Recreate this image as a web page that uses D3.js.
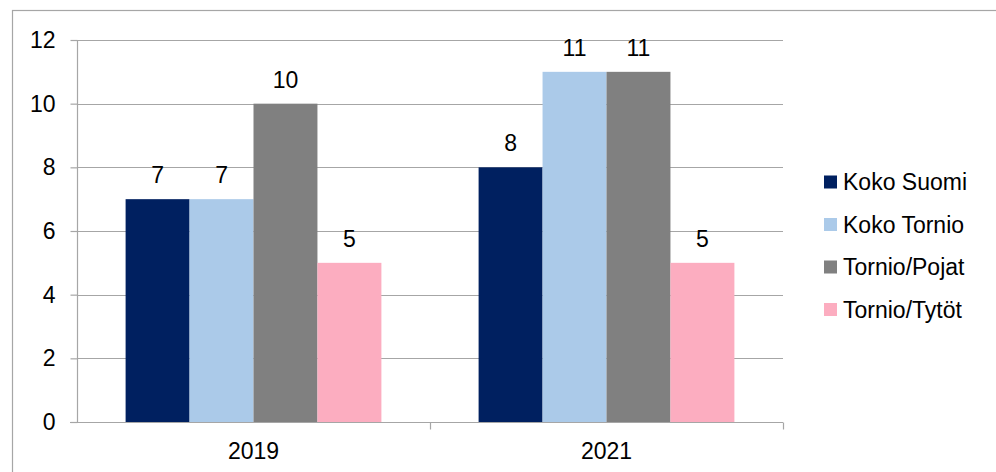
<!DOCTYPE html>
<html>
<head>
<meta charset="utf-8">
<script src="https://cdn.jsdelivr.net/npm/d3@7"></script>
<style>
  body { margin: 0; background: #fff; }
  svg { display: block; font-family: "Liberation Sans", Arial, sans-serif; }
</style>
</head>
<body>
<svg id="chart" width="996" height="472"></svg>
<script>
// Chart data
const years = ['2019', '2021'];
const seriesNames = ['Koko Suomi', 'Koko Tornio', 'Tornio/Pojat', 'Tornio/Tytöt'];
const kokoSuomi = [7, 8];
const kokoTornio = [7, 11];
const tornioPojat = [10, 11];
const tornioTytot = [5, 5];
const yTicks = [0, 2, 4, 6, 8, 10, 12];

const colors = ['#002060', '#abcae9', '#808080', '#fcadc0'];
const allSeries = [kokoSuomi, kokoTornio, tornioPojat, tornioTytot];

const fontSize = 23;

// Plot area
const plot = { left: 77, right: 783, top: 40, bottom: 422 };

const svg = d3.select('#chart');

// Outer chart border (cropped at right and bottom)
svg.append('rect')
  .attr('x', 12.5).attr('y', 10.5)
  .attr('width', 1000).attr('height', 500)
  .attr('fill', 'none')
  .attr('stroke', '#a6a6a6')
  .attr('stroke-width', 1.2);

// Scales
const xScale = d3.scaleBand()
  .domain(years)
  .range([plot.left, plot.right]);

const xInner = d3.scaleBand()
  .domain(seriesNames)
  .range([0, xScale.bandwidth()])
  .paddingOuter(0.76);

const yScale = d3.scaleLinear()
  .domain([0, 12])
  .range([plot.bottom, plot.top]);

// Gridlines
svg.append('g')
  .selectAll('line')
  .data(yTicks.filter(t => t > 0))
  .enter().append('line')
  .attr('x1', plot.left).attr('x2', plot.right)
  .attr('y1', d => Math.round(yScale(d)) + 0.5)
  .attr('y2', d => Math.round(yScale(d)) + 0.5)
  .attr('stroke', '#a6a6a6')
  .attr('stroke-width', 1.2);

// Bars
years.forEach((year, i) => {
  svg.append('g')
    .selectAll('rect')
    .data(seriesNames)
    .enter().append('rect')
    .attr('x', s => xScale(year) + xInner(s))
    .attr('y', (s, j) => yScale(allSeries[j][i]))
    .attr('width', xInner.bandwidth())
    .attr('height', (s, j) => plot.bottom - yScale(allSeries[j][i]))
    .attr('fill', (s, j) => colors[j]);

  // Value labels
  svg.append('g')
    .selectAll('text')
    .data(seriesNames)
    .enter().append('text')
    .attr('x', s => xScale(year) + xInner(s) + xInner.bandwidth() / 2)
    .attr('y', (s, j) => yScale(allSeries[j][i]) - 16)
    .attr('text-anchor', 'middle')
    .attr('font-size', fontSize)
    .attr('fill', '#000')
    .text((s, j) => allSeries[j][i]);
});

// Y axis
const yAxis = d3.axisLeft(yScale)
  .tickValues(yTicks)
  .tickSize(7)
  .tickPadding(15)
  .tickFormat(d3.format('d'));
const yG = svg.append('g')
  .attr('transform', `translate(${plot.left + 0.5},0)`)
  .call(yAxis)
  .attr('font-size', fontSize)
  .attr('font-family', '"Liberation Sans", Arial, sans-serif');
yG.select('.domain').attr('stroke', '#a6a6a6').attr('stroke-width', 1.2)
  .attr('d', `M0,${plot.top}V${plot.bottom}`);
yG.selectAll('.tick line').attr('stroke', '#a6a6a6').attr('stroke-width', 1.2);
yG.selectAll('.tick text').attr('fill', '#000');

// X axis
const xG = svg.append('g')
  .attr('transform', `translate(0,${plot.bottom + 0.5})`);
xG.append('line')
  .attr('x1', plot.left - 7).attr('x2', plot.right)
  .attr('stroke', '#a6a6a6').attr('stroke-width', 1.2);
xG.selectAll('.xtick')
  .data(years)
  .enter().append('line')
  .attr('x1', d => Math.round(xScale(d) + xScale.bandwidth()) + 0.5)
  .attr('x2', d => Math.round(xScale(d) + xScale.bandwidth()) + 0.5)
  .attr('y1', 0).attr('y2', 7)
  .attr('stroke', '#a6a6a6').attr('stroke-width', 1.2);
xG.selectAll('text')
  .data(years)
  .enter().append('text')
  .attr('x', d => xScale(d) + xScale.bandwidth() / 2)
  .attr('y', 36)
  .attr('text-anchor', 'middle')
  .attr('font-size', fontSize)
  .attr('fill', '#000')
  .text(d => d);

// Legend
const legend = svg.append('g')
  .attr('transform', 'translate(824,182)');
const item = legend.selectAll('g')
  .data(seriesNames)
  .enter().append('g')
  .attr('transform', (d, i) => `translate(0,${i * 42.5})`);
item.append('rect')
  .attr('x', 0).attr('y', -6.5)
  .attr('width', 13).attr('height', 13)
  .attr('fill', (d, i) => colors[i]);
item.append('text')
  .attr('x', 19).attr('y', 8)
  .attr('font-size', fontSize)
  .attr('fill', '#000')
  .text(d => d);
</script>
</body>
</html>
